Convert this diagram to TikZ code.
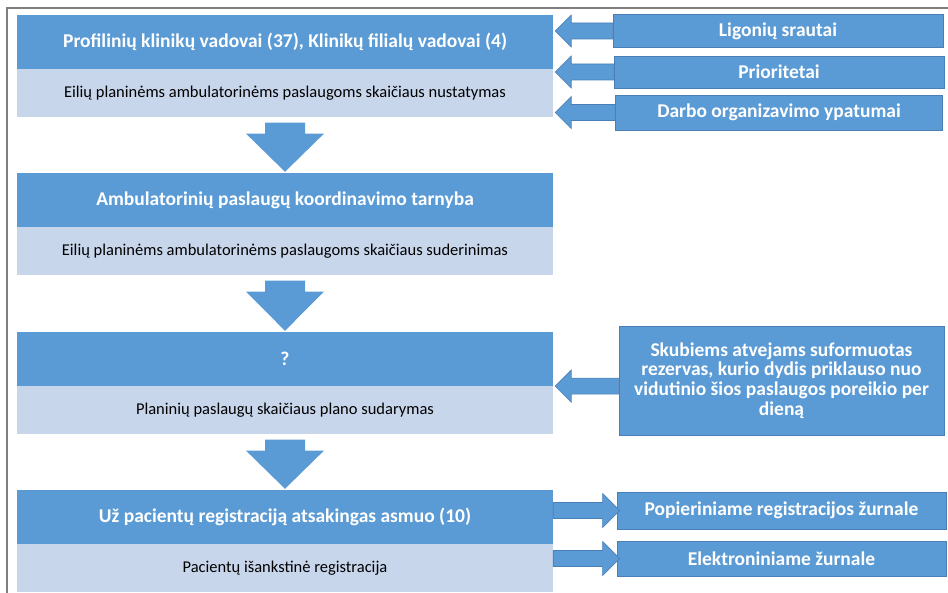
\documentclass[tikz,border=0pt]{standalone}
\usepackage{fontspec}
\setmainfont{Carlito}
\usetikzlibrary{calc}
\definecolor{dk}{HTML}{5B9BD5}
\definecolor{lt}{HTML}{C8D6EC}
\definecolor{edgec}{HTML}{4A7FB5}
\definecolor{framec}{HTML}{7F7F7F}
\newcommand\dnarr[2]{%
  \fill[dk] ($(#1.south)+(-20,5)$) -- ($(#1.south)+(20,5)$) -- ($(#1.south)+(20,16)$)
    -- ($(#1.south)+(39,16)$) -- ($(#2.north)+(0,-1)$) -- ($(#1.south)+(-39,16)$)
    -- ($(#1.south)+(-20,16)$) -- cycle;}
% left arrow: #1 = box (tail), #2 = coordinate at tip
\newcommand\lfarr[2]{%
  \filldraw[arrowshape] ($(#2)+(2,0)$) -- ($(#2)+(18,-16)$) -- ($(#2)+(18,-8)$)
    -- ($(#1.west|-#2)+(0,-8)$) -- ($(#1.west|-#2)+(0,8)$) -- ($(#2)+(18,8)$)
    -- ($(#2)+(18,16)$) -- cycle;}
% right arrow: #1 = block (tail), #2 = box (tip)
\newcommand\rtarr[2]{%
  \filldraw[arrowshape] ($(#1.east|-#2.west)+(0,-8)$) -- ($(#2.west)+(-14,-8)$)
    -- ($(#2.west)+(-14,-17)$) -- ($(#2.west)+(3,0)$) -- ($(#2.west)+(-14,17)$)
    -- ($(#2.west)+(-14,8)$) -- ($(#1.east|-#2.west)+(0,8)$) -- cycle;}
\begin{document}
\begin{tikzpicture}[x=1pt,y=-1pt,
  hdr/.style={fill=dk, minimum width=536pt, minimum height=54pt, inner sep=0pt,
    text=white, font=\fontsize{19.5}{22}\selectfont\bfseries},
  sub/.style={fill=lt, minimum width=536pt, minimum height=48pt, inner sep=0pt,
    text=black, font=\fontsize{16.5}{19}\selectfont},
  rbox/.style={fill=dk, draw=edgec, line width=0.8pt, inner sep=0pt, text=white,
    font=\fontsize{19.5}{19.7}\selectfont\bfseries, align=center},
  arrowshape/.style={fill=dk, draw=edgec, line width=0.6pt, line join=miter}]
\useasboundingbox (0,0) rectangle (948,593);
\fill[white] (0,0) rectangle (948,593);
% frame
\coordinate (fbl) at (7,600);
\coordinate (ftl) at (7,8);
\coordinate (ftr) at (952,8);
\draw[framec, line width=1.3pt] (fbl) -- (ftl) -- (ftr);

% blocks
\node[hdr] (h1) at (285,42) {Profilinių klinikų vadovai (37), Klinikų filialų vadovai (4)};
\node[sub, anchor=north] (s1) at (h1.south) {\raisebox{2pt}{Eilių planinėms ambulatorinėms paslaugoms skaičiaus nustatymas}};
\node[hdr] (h2) at (285,200) {Ambulatorinių paslaugų koordinavimo tarnyba};
\node[sub, anchor=north] (s2) at (h2.south) {Eilių planinėms ambulatorinėms paslaugoms skaičiaus suderinimas};
\node[hdr] (h3) at (285,359) {?};
\node[sub, anchor=north] (s3) at (h3.south) {Planinių paslaugų skaičiaus plano sudarymas};
\node[hdr] (h4) at (285,517) {Už pacientų registraciją atsakingas asmuo (10)};
\node[sub, anchor=north] (s4) at (h4.south) {Pacientų išankstinė registracija};

\dnarr{s1}{h2}
\dnarr{s2}{h3}
\dnarr{s3}{h4}

% right boxes, top
\node[rbox, minimum width=330pt, minimum height=33pt] (r1) at (778,31) {Ligonių srautai};
\node[rbox, minimum width=330pt, minimum height=32pt] (r2) at (779,72) {Prioritetai};
\node[rbox, minimum width=327pt, minimum height=35pt] (r3) at (779,112.5) {Darbo organizavimo ypatumai};
\coordinate (t1) at (h1.east|-r1.west);
\coordinate (t2) at (h1.east|-r2.west);
\coordinate (t3) at (s1.east|-r3.west);
\lfarr{r1}{t1}
\lfarr{r2}{t2}
\lfarr{r3}{t3}

% right box block 3
\node[rbox, minimum width=325pt, minimum height=109pt] (r4) at (781.5,380.5)
  {Skubiems atvejams suformuotas\\rezervas, kurio dydis priklauso nuo\\vidutinio šios paslaugos poreikio per\\dieną};
\coordinate (t4) at (h3.south east);
\lfarr{r4}{t4}

% right boxes, block 4
\node[rbox, minimum width=329pt, minimum height=37pt] (r5) at (781.5,510.5) {Popieriniame registracijos žurnale};
\node[rbox, minimum width=329pt, minimum height=35pt] (r6) at (781.5,558.5) {Elektroniniame žurnale};
\rtarr{h4}{r5}
\rtarr{s4}{r6}
\end{tikzpicture}
\end{document}
